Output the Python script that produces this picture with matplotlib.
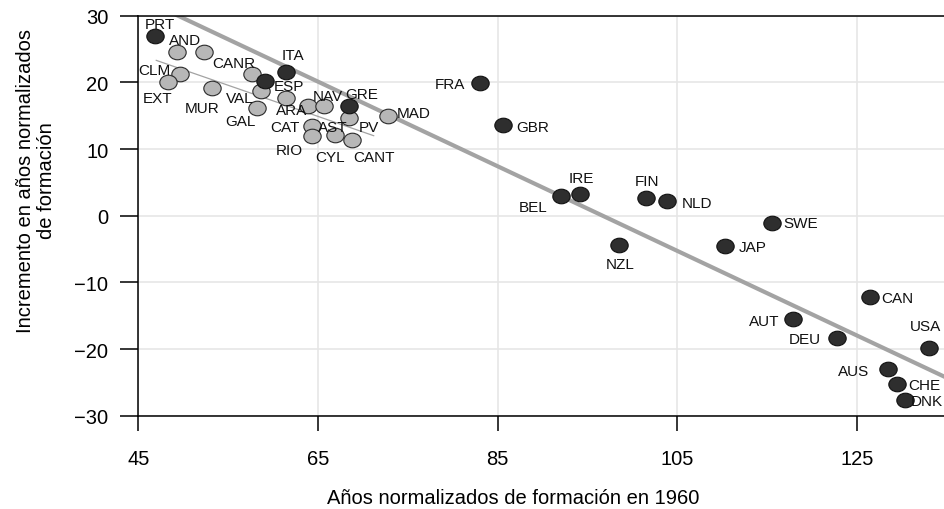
import numpy as np
import matplotlib
matplotlib.use("Agg")
import matplotlib.pyplot as plt
from matplotlib.path import Path

plt.rcParams['font.family'] = ['Liberation Sans', 'DejaVu Sans']

# Countries (dark markers)
countries = ["PRT", "ITA", "ESP", "GRE", "FRA", "GBR", "BEL", "IRE", "FIN", "NLD",
             "NZL", "SWE", "JAP", "CAN", "AUT", "DEU", "USA", "AUS", "CHE", "DNK"]
countries_x = [46.9, 61.4, 59.1, 68.5, 83.0, 85.6, 92.0, 94.2, 101.5, 103.9,
               98.5, 115.5, 110.3, 126.4, 117.9, 122.8, 133.0, 128.5, 129.4, 130.3]
countries_y = [27.0, 21.6, 20.2, 16.5, 19.9, 13.6, 2.9, 3.3, 2.7, 2.2,
               -4.4, -1.1, -4.5, -12.2, -15.5, -18.3, -19.8, -23.0, -25.2, -27.7]

# Spanish regions (light markers); one point carries no visible label
regions = ["AND", "CANR", "", "CLM", "EXT", "MUR", "VAL", "GAL", "ARA", "NAV",
           "AST", "PV", "MAD", "CAT", "RIO", "CYL", "CANT"]
regions_x = [49.3, 52.3, 57.7, 49.6, 48.3, 53.2, 58.7, 58.2, 61.4, 63.9,
             65.7, 68.5, 72.8, 64.3, 64.3, 66.9, 68.8]
regions_y = [24.5, 24.5, 21.2, 21.2, 20.0, 19.1, 18.7, 16.1, 17.6, 16.5,
             16.5, 14.6, 15.0, 13.4, 12.0, 12.1, 11.4]

# fitted lines
fit_all_x = [46.9, 140.0]
fit_all_y = [31.6, -27.5]
fit_reg_x = [47.0, 71.2]
fit_reg_y = [23.3, 12.0]

x_ticks = [45, 65, 85, 105, 125]
y_ticks = [-30, -20, -10, 0, 10, 20, 30]

# label offsets in pixels (dx, dy)
offsets = {
    "PRT": (5, 12), "ITA": (7, 17), "ESP": (24, -5), "GRE": (12, 12), "FRA": (-30, -1),
    "GBR": (30, -2), "BEL": (-27, -11), "IRE": (1, 16), "FIN": (1, 17), "NLD": (30, -2),
    "NZL": (1, -19), "SWE": (29, 0), "JAP": (28, -1), "CAN": (28, -1), "AUT": (-29, -2),
    "DEU": (-32, -1), "USA": (-3, 22), "AUS": (-35, -2), "CHE": (28, -1), "DNK": (22, -1),
    "AND": (8, 12), "CANR": (30, -11), "CLM": (-25, 4), "EXT": (-10, -16), "MUR": (-10, -20),
    "VAL": (-22, -7), "GAL": (-16, -13), "ARA": (6, -12), "NAV": (20, 10), "AST": (9, -21),
    "PV": (19, -9), "MAD": (26, 3), "CAT": (-27, -1), "RIO": (-22, -14), "CYL": (-5, -22),
    "CANT": (22, -17),
}

# slightly flattened circle marker
circ = Path.unit_circle()
ellipse = Path(circ.vertices * np.array([1.0, 0.84]), circ.codes)

fig = plt.figure(figsize=(9.44, 5.10), dpi=100)
ax = fig.add_axes([138.3 / 944, 93.3 / 510, 1 - 138.3 / 944, 400 / 510])

ax.plot(fit_all_x, fit_all_y, color='#a3a3a3', lw=3.0, zorder=2, solid_capstyle='butt')
ax.plot(fit_reg_x, fit_reg_y, color='#a3a3a3', lw=0.9, zorder=2)

ax.plot(regions_x, regions_y, ls='none', marker=ellipse, ms=12.5, mfc='#b7b7b7',
        mec='#2a2a2a', mew=0.8, zorder=3)
ax.plot(countries_x, countries_y, ls='none', marker=ellipse, ms=12.5, mfc='#2e2e2e',
        mec='#111111', mew=0.8, zorder=3)

for name, x, y in list(zip(countries, countries_x, countries_y)) + list(zip(regions, regions_x, regions_y)):
    if not name:
        continue
    dx, dy = offsets[name]
    ax.annotate(name, (x, y), xytext=(dx, dy), textcoords='offset pixels',
                ha='center', va='center', fontsize=11, color='#111111', zorder=4,
                annotation_clip=False)

ax.set_xlim(45, 134.68)
ax.set_ylim(-30, 30)
ax.set_xticks(x_ticks)
ax.set_yticks(y_ticks)
ax.set_yticklabels([str(t).replace('-', '\u2212') for t in y_ticks])
ax.grid(True, color='#e6e6e6', lw=1.2, zorder=0)
ax.set_axisbelow(True)

ax.spines['right'].set_visible(False)
for s in ['left', 'bottom', 'top']:
    ax.spines[s].set_linewidth(1.1)
    ax.spines[s].set_color('black')

ax.tick_params(axis='x', length=11, width=1.1, pad=13, labelsize=14.5)
ax.tick_params(axis='y', length=13, width=1.1, pad=8.5, labelsize=14.5)
ax.tick_params(top=False, right=False)

fig.text(513 / 944, 1 - 504 / 510, 'Años normalizados de formación en 1960',
         ha='center', va='baseline', fontsize=14.5)
fig.text(36 / 944, 1 - 181 / 510, 'Incremento en años normalizados\nde formación',
         ha='center', va='center', rotation=90, fontsize=14.5, multialignment='center',
         linespacing=1.15)

fig.savefig('out.png', dpi=100)
